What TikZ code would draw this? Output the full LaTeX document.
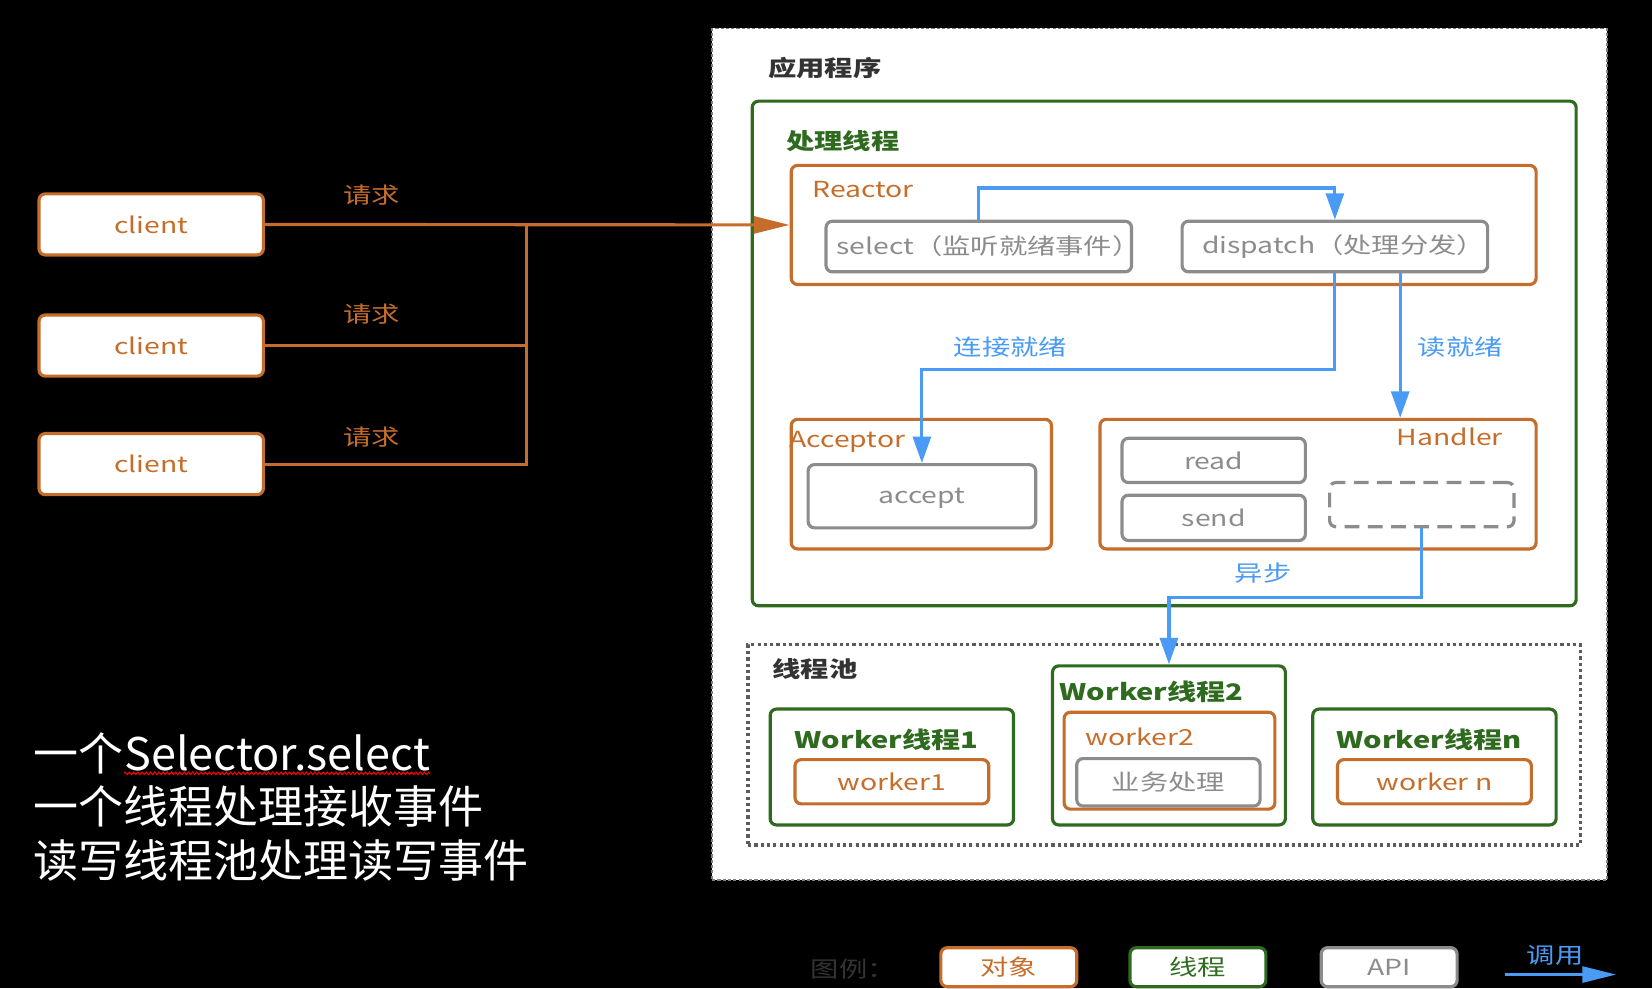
\documentclass[tikz,border=0pt]{standalone}
\usepackage{fontspec}
\setmainfont{Noto Sans CJK SC}
\newfontfamily\dfont[FakeStretch=1.28]{Noto Sans CJK SC}
\usetikzlibrary{arrows.meta,decorations.pathmorphing}
\definecolor{myorange}{HTML}{C66D2B}
\definecolor{mygreen}{HTML}{2F6B1F}
\definecolor{mygray}{HTML}{8C8C8C}
\definecolor{myblue}{HTML}{4A9BF5}
\definecolor{mydark}{HTML}{333333}
\def\lw{3pt}
\newcommand{\dsize}{\dfont\fontsize{21}{21}\selectfont}
\newcommand{\tsize}{\dfont\fontsize{21.6}{21.6}\selectfont}
\newcommand{\bigsize}{\fontsize{42.7}{42.7}\selectfont}
\newcommand{\boxat}[6]{
  \node[#1, minimum width=#4pt, minimum height=#5pt] (#2) at (#3) {#6};
}
\tikzset{
  box/.style={rounded corners=6pt, line width=\lw, inner sep=0pt, font=\dsize},
  obj/.style={box, draw=myorange, text=myorange},
  thr/.style={box, draw=mygreen, text=mygreen},
  api/.style={box, draw=mygray, text=mygray},
  title/.style={inner sep=0pt, font=\dsize\bfseries},
  lbl/.style={inner sep=0pt, font=\dsize},
  call/.style={draw=myblue, line width=\lw, -{Triangle[length=25pt,width=17pt]}},
  req/.style={draw=myorange, line width=\lw},
  summary/.style={anchor=base west, inner sep=0pt, text=white, font=\bigsize},
}

\begin{document}
\begin{tikzpicture}[x=1pt,y=-1pt]
  \fill[black] (0,0) rectangle (1568,938);
  \useasboundingbox (0,0) rectangle (1568,938);

  \node[draw=gray, fill=white, line width=1.5pt, dash pattern=on 3pt off 2pt,
        minimum width=849pt, minimum height=808pt, inner sep=0pt] (app) at (1100.5,431) {};
  \node[title, text=mydark, anchor=west] (apptitle) at (729,65) {应用程序};

  % handling thread
  \boxat{thr}{proc}{1105,335.5}{782}{479}{}
  \node[title, text=mygreen, anchor=west] (proctitle) at (746,134) {处理线程};
  \boxat{obj}{reactor}{1104.5,213.5}{707}{113}{}
  \node[lbl, text=myorange, anchor=west] (reactortitle) at (771,180) {Reactor};
  \boxat{api}{select}{929,234}{290}{48}{\makebox[270pt][l]{select（监听就绪事件）}}
  \boxat{api}{dispatch}{1267,234}{290}{48}{\makebox[270pt][l]{\hspace*{9pt}dispatch（处理分发）}}
  \boxat{obj}{acceptor}{874.5,459.5}{247}{123}{}
  \node[lbl, text=myorange, anchor=west] (acceptortitle) at (749,419) {Acceptor};
  \boxat{api, text depth=0pt}{accept}{875,471}{216}{60}{accept}
  \boxat{obj}{handler}{1251,459.5}{414}{123}{}
  \node[lbl, text=myorange] (handlertitle) at (1376,415) {Handler};
  \boxat{api}{read}{1152,437}{174}{42}{read}
  \boxat{api}{send}{1152,491.5}{174}{43}{send}
  \boxat{api, dash pattern=on 14pt off 8pt}{slot}{1349.5,479}{175}{42}{}

  % thread pool
  \node[draw=mydark!80, line width=\lw, dash pattern=on 3pt off 3pt,
        minimum width=790pt, minimum height=190pt, inner sep=0pt] (pool) at (1105,707) {};
  \node[title, text=mydark, anchor=west] (pooltitle) at (733,635) {线程池};
  \foreach \n/\x/\txt in {1/846.5/worker1, n/1361.5/{worker n}} {
    \boxat{thr}{w\n}{\x,728}{231}{110}{}
    \node[title, font=\tsize\bfseries, text=mygreen] (w\n title) at (\x-5,702) {Worker线程\n};
    \boxat{obj}{w\n o}{\x,742}{184}{42}{\txt}
  }
  \boxat{thr}{w2}{1109.5,707.5}{221}{151}{}
  \node[title, font=\tsize\bfseries, text=mygreen] (w2title) at (1093,657) {Worker线程2};
  \boxat{obj}{w2o}{1110,722}{200}{92}{}
  \node[lbl, text=myorange] (w2otitle) at (1082,699) {worker2};
  \boxat{api}{w2a}{1109,742.5}{174}{45}{业务处理}

  % clients
  \foreach \i/\y/\ly in {1/213/185, 2/328/298, 3/440.5/415} {
    \boxat{obj, fill=white}{client\i}{143.5,\y}{213}{58}{client}
    \node[lbl, text=myorange] (req\i) at (353,\ly) {请求};
  }
  \coordinate (hub) at (500,213);
  \draw[req, -{Triangle[length=34pt,width=16pt]}] (client1.east) -- (reactor.west);
  \draw[req] (client2.east) -| (hub);
  \draw[req] (client3.east) -| (hub);

  % calls
  \draw[call] (select.north) -- ++(0,-30) -| (dispatch.north);
  \draw[call] (dispatch.south) -- ++(0,91) -| (accept.north);
  \coordinate (rd) at ([xshift=62pt]dispatch.south);
  \draw[call] (rd) -- (rd |- handler.north);
  \draw[call] (slot.south) -- ++(0,66) -| (w2.north);
  \node[lbl, text=myblue] (lconn) at (959,329) {连接就绪};
  \node[lbl, text=myblue] (lread) at (1386,329) {读就绪};
  \node[lbl, text=myblue] (lasync) at (1199,544) {异步};

  % summary
  \node[summary] (sum1a) at (32,731) {一个};
  \node[summary] (sum1b) at (sum1a.base east) {Selector.select};
  \node[summary] (sum2) at (32,782) {一个线程处理接收事件};
  \node[summary] (sum3) at (32,833) {读写线程池处理读写事件};
  \draw[red, line width=1pt, decorate, decoration={zigzag, segment length=4pt, amplitude=1.2pt}]
    ([yshift=-3pt]sum1b.base west) -- ([yshift=-3pt]sum1b.base east);

  % legend
  \node[lbl, text=mydark] (legend) at (810,920) {图例：};
  \foreach \n/\x/\c/\txt in {lobj/957.5/myorange/对象, lthr/1137/mygreen/线程, lapi/1318.5/mygray/API} {
    \node[box, draw=\c, text=\c, fill=white, minimum width=129pt, minimum height=37pt] (\n) at (\x,918) {\txt};
  }
  \coordinate (callA) at (1428,925);
  \coordinate (callB) at (1534,925);
  \draw[call, -{Triangle[length=32pt,width=15pt]}] (callA) -- (callB);
  \node[lbl, text=myblue] (lcall) at (1476,907) {调用};
\end{tikzpicture}
\end{document}
